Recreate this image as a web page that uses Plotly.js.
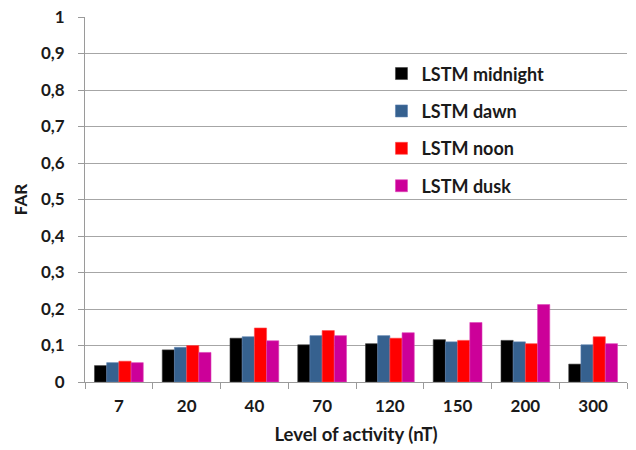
<!DOCTYPE html>
<html>
<head>
<meta charset="utf-8">
<script src="https://cdn.plot.ly/plotly-3.0.1.min.js"></script>
<style>html,body{margin:0;padding:0;background:#fff}#chart{width:636px;height:450px}</style>
</head>
<body>
<div id="chart"></div>
<script>
var categories = ["7", "20", "40", "70", "120", "150", "200", "300"];
var seriesNames = ["LSTM midnight", "LSTM dawn", "LSTM noon", "LSTM dusk"];
var midnight = [0.045, 0.088, 0.120, 0.102, 0.105, 0.116, 0.114, 0.049];
var dawn     = [0.053, 0.095, 0.124, 0.127, 0.127, 0.110, 0.110, 0.102];
var noon     = [0.057, 0.100, 0.148, 0.141, 0.120, 0.114, 0.105, 0.124];
var dusk     = [0.053, 0.081, 0.113, 0.127, 0.135, 0.163, 0.212, 0.105];
var yTicks = [0, 0.1, 0.2, 0.3, 0.4, 0.5, 0.6, 0.7, 0.8, 0.9, 1];

var values = [midnight, dawn, noon, dusk];
var colors = ["#000000", "#36618F", "#FF0000", "#CC0099"];
var borders = ["#404040", "#5a7fae", "#ff4a4a", "#dd44b8"];

var data = values.map(function (v, i) {
  return {
    type: "bar",
    name: seriesNames[i],
    x: categories,
    y: v,
    legendgroup: "g" + i,
    marker: { color: colors[i], line: { color: borders[i], width: 0.6 } }
  };
});

var FAM = "Lato, 'Open Sans', sans-serif";
function f(sz) { return { family: FAM, size: sz, color: "#1a1a1a", weight: 700 }; }

var layout = {
  width: 636,
  height: 450,
  margin: { l: 85, r: 9, t: 17, b: 68 },
  paper_bgcolor: "#fff",
  plot_bgcolor: "#fff",
  separators: ",.",
  barmode: "group",
  bargap: 0.28,
  bargroupgap: 0,
  font: f(17),
  showlegend: true,
  legend: {
    x: 0.547, y: 0.895, xanchor: "left", yanchor: "top",
    bgcolor: "rgba(0,0,0,0)",
    traceorder: "grouped",
    tracegroupgap: 11,
    font: f(18)
  },
  xaxis: {
    type: "category",
    showline: true, linecolor: "#9a9a9a", linewidth: 1,
    ticks: "outside", tickson: "boundaries", ticklen: 6, tickcolor: "#9a9a9a",
    ticklabelstandoff: 9,
    showgrid: false,
    tickfont: f(17),
    title: { text: "Level of activity (nT)", standoff: 12, font: f(18.5) }
  },
  yaxis: {
    range: [0, 1],
    tickvals: yTicks,
    showline: true, linecolor: "#9a9a9a", linewidth: 1,
    ticks: "outside", ticklen: 6, tickcolor: "#9a9a9a",
    ticklabelstandoff: 10,
    showgrid: true, gridcolor: "#a6a6a6", gridwidth: 1,
    zeroline: false,
    tickfont: f(17),
    title: { text: "FAR", standoff: 8, font: f(17) }
  }
};

Plotly.newPlot("chart", data, layout, { displayModeBar: false, staticPlot: true });
</script>
</body>
</html>
